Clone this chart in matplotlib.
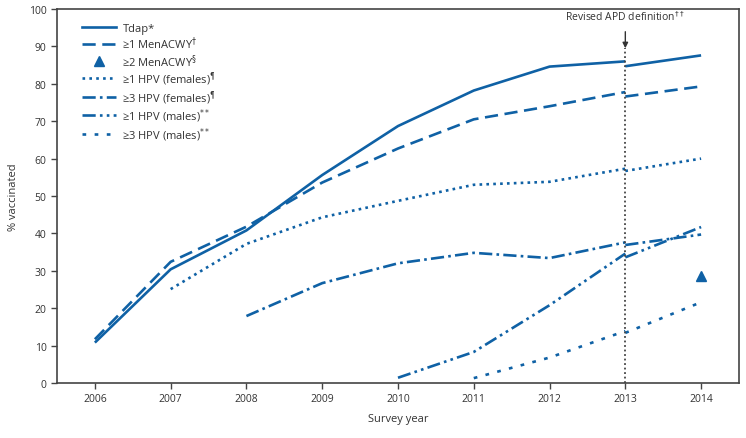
import numpy as np
import matplotlib
matplotlib.use("Agg")
import matplotlib.pyplot as plt
from matplotlib.lines import Line2D

plt.rcParams['font.family'] = ['Open Sans', 'DejaVu Sans']

# survey years and estimates (% vaccinated), NaN = not reported
years = [2006, 2007, 2008, 2009, 2010, 2011, 2012, 2013]
tdap = [10.8, 30.4, 40.8, 55.6, 68.7, 78.2, 84.6, 86.0]
menacwy = [11.7, 32.4, 41.8, 53.6, 62.7, 70.5, 74.0, 77.8]
hpv1_f = [np.nan, 25.1, 37.2, 44.3, 48.7, 53.0, 53.8, 57.3]
hpv3_f = [np.nan, np.nan, 17.9, 26.7, 32.0, 34.8, 33.4, 37.6]
hpv1_m = [np.nan, np.nan, np.nan, np.nan, 1.4, 8.3, 20.8, 34.6]
hpv3_m = [np.nan, np.nan, np.nan, np.nan, np.nan, 1.3, 6.8, 13.9]

# revised adequate provider data definition: 2013 and 2014
rev_years = [2013, 2014]
tdap_rev = [84.7, 87.6]
menacwy_rev = [76.6, 79.3]
hpv1_f_rev = [56.7, 60.0]
hpv3_f_rev = [36.9, 39.7]
hpv1_m_rev = [33.6, 41.7]
hpv3_m_rev = [13.4, 21.6]
men2_year = 2014
men2_val = 28.5

labels = ["Tdap*", r"≥1 MenACWY$^{\dagger}$", r"≥2 MenACWY$^{\S}$",
          r"≥1 HPV (females)$^{\P}$", r"≥3 HPV (females)$^{\P}$",
          r"≥1 HPV (males)$^{**}$", r"≥3 HPV (males)$^{**}$"]

blue = '#0f61a5'
lw = 1.9
styles = {
    'tdap': dict(ls='-'),
    'men': dict(dashes=(5, 2.5)),
    'hpv1f': dict(dashes=(1, 1.6)),
    'hpv3f': dict(dashes=(5, 1.6, 1, 1.6)),
    'hpv1m': dict(dashes=(5, 1.6, 1, 1.6, 1, 1.6)),
    'hpv3m': dict(dashes=(1.4, 3.2)),
}

fig = plt.figure(figsize=(7.46, 4.39), dpi=100)
ax = fig.add_axes([0.0764, 0.1253, 0.9142, 0.8519])

series = [('tdap', tdap, tdap_rev), ('men', menacwy, menacwy_rev),
          ('hpv1f', hpv1_f, hpv1_f_rev), ('hpv3f', hpv3_f, hpv3_f_rev),
          ('hpv1m', hpv1_m, hpv1_m_rev), ('hpv3m', hpv3_m, hpv3_m_rev)]
for key, old, new in series:
    ax.plot(years, old, color=blue, lw=lw, solid_capstyle='butt',
            dash_capstyle='butt', **styles[key])
    ax.plot(rev_years, new, color=blue, lw=lw, solid_capstyle='butt',
            dash_capstyle='butt', **styles[key])
ax.plot([men2_year], [men2_val], marker='^', color=blue, ms=7, ls='none')

# APD definition marker
ax.axvline(2013, ymin=0, ymax=0.895, color='#444444', lw=1.3, dashes=(1, 1.5))
ax.annotate("Revised APD definition$^{\\dagger\\dagger}$", xy=(2013, 89.5),
            xytext=(2013, 98), ha='center', va='center', fontsize=7.5,
            color='#333333',
            arrowprops=dict(arrowstyle='-|>', color='#333333', lw=1,
                            mutation_scale=8, shrinkA=4, shrinkB=0))

handles = [Line2D([], [], color=blue, lw=lw, **styles['tdap']),
           Line2D([], [], color=blue, lw=lw, **styles['men']),
           Line2D([], [], color=blue, marker='^', ms=7, ls='none'),
           Line2D([], [], color=blue, lw=lw, **styles['hpv1f']),
           Line2D([], [], color=blue, lw=lw, **styles['hpv3f']),
           Line2D([], [], color=blue, lw=lw, **styles['hpv1m']),
           Line2D([], [], color=blue, lw=lw, **styles['hpv3m'])]
leg = ax.legend(handles, labels, loc='upper left', bbox_to_anchor=(0.03, 0.975),
                borderaxespad=0, frameon=False, fontsize=8, handlelength=3.1,
                handletextpad=0.55, labelspacing=0.08)
for t in leg.get_texts():
    t.set_color('#333333')

ax.set_xlim(2005.5, 2014.5)
ax.set_ylim(0, 100)
ax.set_xticks(range(2006, 2015))
ax.set_yticks(range(0, 101, 10))
ax.tick_params(direction='out', length=4, width=1, labelsize=7.5,
               colors='#444444', labelcolor='#333333')
for s in ax.spines.values():
    s.set_color('#444444')
    s.set_linewidth(1.2)
ax.set_xlabel("Survey year", fontsize=8, color='#333333', labelpad=6)
ax.set_ylabel("% vaccinated", fontsize=8, color='#333333', labelpad=7)

fig.savefig("out.png", dpi=100)
